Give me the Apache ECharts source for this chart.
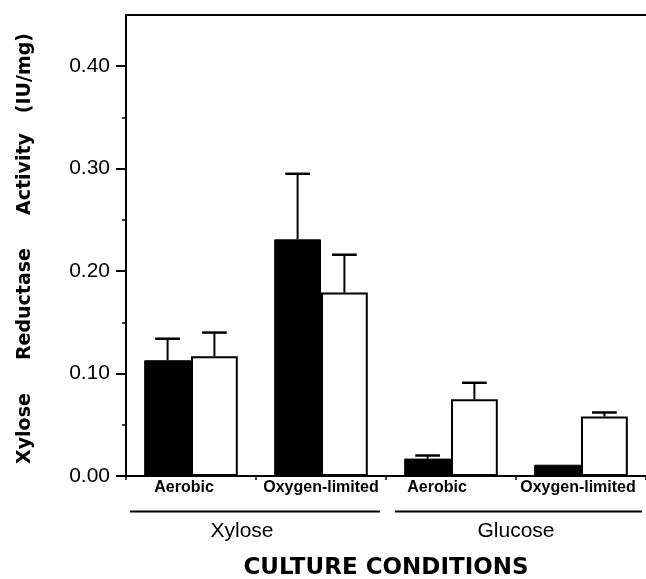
<!DOCTYPE html>
<html>
<head>
<meta charset="utf-8">
<script src="https://cdn.jsdelivr.net/npm/echarts@6/dist/echarts.min.js"></script>
<style>html,body{margin:0;padding:0;background:#fff}#c{width:646px;height:579px}</style>
</head>
<body>
<div id="c"></div>
<script>
const categories = ['Xylose-Aerobic', 'Xylose-Oxygen-limited', 'Glucose-Aerobic', 'Glucose-Oxygen-limited'];
const conditionLabels = ['Aerobic', 'Oxygen-limited', 'Aerobic', 'Oxygen-limited'];
const carbonSources = ['Xylose', 'Glucose'];
const filledValues = [0.113, 0.231, 0.017, 0.011];
const filledErrors = [0.021, 0.064, 0.003, 0];
const openValues = [0.117, 0.179, 0.075, 0.058];
const openErrors = [0.023, 0.037, 0.016, 0.004];
const yMajorTicks = [0, 0.1, 0.2, 0.3, 0.4];
const yMinorTicks = [0.05, 0.15, 0.25, 0.35];
const yTitle = 'Xylose     Reductase     Activity   (IU/mg)';
const xTitle = 'CULTURE CONDITIONS';

const chart = echarts.init(document.getElementById('c'), null, {renderer: 'canvas'});

const labelPad = [[0, 14, 0, 0], [0, 0, 0, 0], [0, 28, 0, 0], [0, 6, 0, 0]];
const groupPad = [[0, 28, 0, 0], [0, 0, 0, 0]];

function errSeries(values, errors, side) {
  return {
    type: 'custom',
    xAxisIndex: 0, yAxisIndex: 0,
    z: 5,
    data: values.map((v, i) => [i, v, errors[i]]),
    encode: {x: 0, y: 1},
    renderItem(params, api) {
      const idx = api.value(0), v = api.value(1), e = api.value(2);
      if (!e) return null;
      const band = api.size([1, 0])[0];
      const off = side * band * 0.18;
      const p0 = api.coord([idx, v]);
      const p1 = api.coord([idx, v + e]);
      const x = p0[0] + off;
      const half = band * 0.095;
      return {
        type: 'group',
        children: [
          {type: 'line', shape: {x1: x, y1: p0[1], x2: x, y2: p1[1]}, style: {stroke: '#000', lineWidth: 2}},
          {type: 'line', shape: {x1: x - half, y1: p1[1], x2: x + half, y2: p1[1]}, style: {stroke: '#000', lineWidth: 2.5}}
        ]
      };
    }
  };
}

chart.setOption({
  animation: false,
  backgroundColor: '#fff',
  grid: {left: 126, right: 0, top: 15, bottom: 103, containLabel: false, outerBoundsMode: 'none'},
  xAxis: [
    {
      type: 'category',
      data: categories.map((c, i) => ({value: c, textStyle: {padding: labelPad[i]}})),
      position: 'bottom',
      axisLine: {lineStyle: {color: '#000', width: 2}},
      axisTick: {show: true, interval: 0, length: 4, lineStyle: {color: '#000', width: 1.5}},
      axisLabel: {
        interval: 0,
        hideOverlap: false,
        margin: 4,
        color: '#000',
        fontFamily: 'Liberation Sans, Arial, sans-serif',
        fontWeight: 'bold',
        fontSize: 16,
        formatter: (v, i) => conditionLabels[i]
      },
      name: xTitle,
      nameLocation: 'middle',
      nameGap: 81,
      nameTextStyle: {color: '#000', fontFamily: 'DejaVu Sans', fontWeight: 'bold', fontSize: 23}
    },
    {
      type: 'category',
      data: carbonSources.map((c, i) => ({value: c, textStyle: {padding: groupPad[i]}})),
      position: 'bottom',
      axisLine: {show: false},
      axisTick: {show: false},
      axisLabel: {
        interval: 0,
        margin: 45,
        color: '#000',
        fontFamily: 'Liberation Sans, Arial, sans-serif',
        fontSize: 21
      }
    },
    {
      type: 'category',
      data: categories,
      position: 'top',
      axisLine: {show: true, lineStyle: {color: '#000', width: 2}},
      axisTick: {show: false},
      axisLabel: {show: false}
    }
  ],
  yAxis: [
    {
      type: 'value',
      min: 0, max: 0.45, interval: 0.05,
      position: 'left',
      axisLine: {show: true, lineStyle: {color: '#000', width: 2}},
      axisTick: {show: true, length: 10, inside: false, customValues: yMajorTicks, lineStyle: {color: '#000', width: 2}},
      axisLabel: {
        customValues: yMajorTicks,
        margin: 16,
        color: '#000',
        fontFamily: 'Liberation Sans, Arial, sans-serif',
        fontSize: 21,
        formatter: v => v.toFixed(2)
      },
      splitLine: {show: false},
      name: yTitle,
      nameLocation: 'middle',
      nameRotate: 90,
      nameGap: 91,
      nameTextStyle: {color: '#000', fontFamily: 'DejaVu Sans', fontWeight: 'bold', fontSize: 19, padding: [0, 6, 0, 0]}
    },
    {
      type: 'value',
      min: 0, max: 0.45, interval: 0.05,
      position: 'left',
      axisLine: {show: false},
      axisTick: {show: true, length: 4, customValues: yMinorTicks, lineStyle: {color: '#000', width: 1.5}},
      axisLabel: {show: false},
      splitLine: {show: false}
    }
  ],
  series: [
    {
      type: 'bar',
      data: filledValues,
      barWidth: '36%',
      barGap: '0%',
      itemStyle: {color: '#000', borderColor: '#000', borderWidth: 1}
    },
    {
      type: 'bar',
      data: openValues,
      barWidth: '36%',
      barGap: '0%',
      itemStyle: {color: '#fff', borderColor: '#000', borderWidth: 2}
    },
    errSeries(filledValues, filledErrors, -1),
    errSeries(openValues, openErrors, 1)
  ],
  graphic: [
    {type: 'line', shape: {x1: 130, y1: 511.5, x2: 380, y2: 511.5}, style: {stroke: '#000', lineWidth: 2}},
    {type: 'line', shape: {x1: 395, y1: 511.5, x2: 642, y2: 511.5}, style: {stroke: '#000', lineWidth: 2}}
  ]
});
</script>
</body>
</html>
